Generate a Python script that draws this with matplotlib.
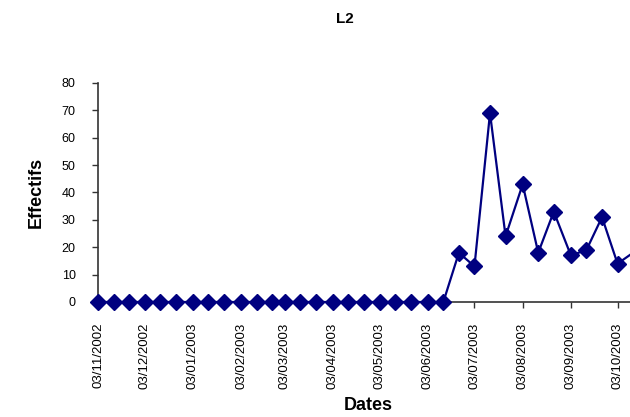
import pandas as pd
import matplotlib.pyplot as plt
import matplotlib.dates as mdates

plt.rcParams['font.family'] = ['Liberation Sans', 'DejaVu Sans']

# Sampling dates (3rd, 13th, 23rd of each month) and counts
dates = ['2002-11-03', '2002-11-13', '2002-11-23',
         '2002-12-03', '2002-12-13', '2002-12-23',
         '2003-01-03', '2003-01-13', '2003-01-23',
         '2003-02-03', '2003-02-13', '2003-02-23',
         '2003-03-03', '2003-03-13', '2003-03-23',
         '2003-04-03', '2003-04-13', '2003-04-23',
         '2003-05-03', '2003-05-13', '2003-05-23',
         '2003-06-03', '2003-06-13', '2003-06-23',
         '2003-07-03', '2003-07-13', '2003-07-23',
         '2003-08-03', '2003-08-13', '2003-08-23',
         '2003-09-03', '2003-09-13', '2003-09-23',
         '2003-10-03', '2003-10-13']
effectifs = [0, 0, 0, 0, 0, 0, 0, 0, 0, 0, 0, 0, 0, 0, 0, 0, 0, 0,
             0, 0, 0, 0, 0, 18, 13, 69, 24, 43, 18, 33, 17, 19, 31, 14, 18]
tick_dates = ['2002-11-03', '2002-12-03', '2003-01-03', '2003-02-03',
              '2003-03-03', '2003-04-03', '2003-05-03', '2003-06-03',
              '2003-07-03', '2003-08-03', '2003-09-03', '2003-10-03']

df = pd.DataFrame({'date': pd.to_datetime(dates), 'effectifs': effectifs})

x_start = pd.Timestamp('2002-11-03')
x_end = pd.Timestamp('2003-10-11')

fig = plt.figure(figsize=(6.3, 4.17), dpi=100)
ax = fig.add_axes([0.1556, 0.2758, 0.8444, 0.5252])

# line is clipped at the plot area, markers only for points inside it
ax.plot(df['date'], df['effectifs'], color='#000080', linewidth=1.6, zorder=3)
shown = df[(df['date'] >= x_start) & (df['date'] <= x_end)]
ax.plot(shown['date'], shown['effectifs'], linestyle='none', color='#000080',
        marker='D', markersize=8, clip_on=False, zorder=4)

ax.set_xlim(x_start, x_end)
ax.set_ylim(0, 80)
ax.set_yticks(range(0, 81, 10))
ax.set_xticks(pd.to_datetime(tick_dates))
ax.xaxis.set_major_formatter(mdates.DateFormatter('%d/%m/%Y'))
plt.setp(ax.get_xticklabels(), rotation=90, fontsize=9.5)
plt.setp(ax.get_yticklabels(), fontsize=9)
ax.tick_params(axis='both', direction='out', length=4, width=1, color='#333333')
ax.tick_params(axis='x', pad=11)
ax.tick_params(axis='y', pad=12)

for side in ['top', 'right']:
    ax.spines[side].set_visible(False)
for side in ['left', 'bottom']:
    ax.spines[side].set_color('#333333')
    ax.spines[side].set_linewidth(1.2)

ax.set_ylabel('Effectifs', fontsize=13, fontweight='bold', labelpad=12)
fig.text(0.584, 0.028, 'Dates', ha='center', va='center', fontsize=13, fontweight='bold')
fig.text(0.548, 0.955, 'L2', ha='center', va='center', fontsize=11, fontweight='bold')

fig.savefig('out.png', dpi=100)
